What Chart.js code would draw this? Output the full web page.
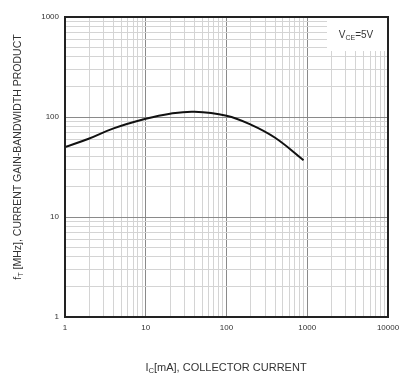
<!DOCTYPE html>
<html>
<head>
<meta charset="utf-8">
<script src="https://cdn.jsdelivr.net/npm/chart.js@4"></script>
<style>
  html, body { margin: 0; padding: 0; background: #fff; }
</style>
</head>
<body>
<canvas id="chart" width="406" height="385"></canvas>
<script>
// Ic [mA] vs fT [MHz]
const collectorCurrent = [1, 2, 4, 10, 20, 40, 100, 200, 400, 900];
const gainBandwidth = [50, 61, 77, 96, 108, 113, 103, 84, 62, 37];

const xTickValues = [1, 10, 100, 1000, 10000];
const xTickLabels = ["1", "10", "100", "1000", "10000"];
const yTickValues = [1, 10, 100, 1000];
const yTickLabels = ["1", "10", "100", "1000"];
const minorSteps = [2, 3, 4, 5, 6, 7, 8, 9];

const textColor = "#333";
const tickFont = { family: "Liberation Sans", size: 8 };

// decade ticks plus the 2..9 minor lines between them
function logTicks(decades) {
  let result = [];
  decades.forEach((d, i) => {
    result.push({ value: d });
    if (i < decades.length - 1) {
      minorSteps.forEach(m => result.push({ value: d * m }));
    }
  });
  return result;
}

function labelFor(values, labels) {
  return (value) => {
    const i = values.indexOf(value);
    return i >= 0 ? labels[i] : "";
  };
}

function gridColor(values) {
  return (ctx) => values.includes(ctx.tick && ctx.tick.value) ? "#8a8a8a" : "#d4d4d4";
}

// draw a string made of normal / subscript parts
function drawParts(ctx, parts, size) {
  let width = 0;
  parts.forEach(p => {
    ctx.font = (p.sub ? size * 0.7 : size) + "px 'Liberation Sans'";
    width += ctx.measureText(p.t).width;
  });
  let x = -width / 2;
  parts.forEach(p => {
    ctx.font = (p.sub ? size * 0.7 : size) + "px 'Liberation Sans'";
    ctx.fillText(p.t, x, p.sub ? size * 0.3 : 0);
    x += ctx.measureText(p.t).width;
  });
}

const framePlugin = {
  id: "frame",
  beforeDatasetsDraw(chart) {
    const { ctx, chartArea } = chart;
    // legend box for the test condition
    ctx.save();
    ctx.fillStyle = "#fff";
    ctx.fillRect(chartArea.right - 61, chartArea.top + 1, 60, 33);
    ctx.fillStyle = textColor;
    ctx.textBaseline = "middle";
    ctx.translate(chartArea.right - 32, chartArea.top + 18);
    drawParts(ctx, [{ t: "V" }, { t: "CE", sub: true }, { t: "=5V" }], 10);
    ctx.restore();
  },
  afterDraw(chart) {
    const { ctx, chartArea } = chart;
    ctx.save();
    ctx.strokeStyle = "#222";
    ctx.lineWidth = 2;
    ctx.strokeRect(chartArea.left, chartArea.top, chartArea.right - chartArea.left, chartArea.bottom - chartArea.top);

    ctx.fillStyle = textColor;
    ctx.textBaseline = "middle";
    // x axis title
    ctx.save();
    ctx.translate(226, 368);
    drawParts(ctx, [{ t: "I" }, { t: "C", sub: true }, { t: "[mA], COLLECTOR CURRENT" }], 11);
    ctx.restore();
    // y axis title
    ctx.save();
    ctx.translate(18, 157);
    ctx.rotate(-Math.PI / 2);
    drawParts(ctx, [{ t: "f" }, { t: "T", sub: true }, { t: " [MHz], CURRENT GAIN-BANDWIDTH PRODUCT" }], 10.5);
    ctx.restore();
    ctx.restore();
  }
};

new Chart(document.getElementById("chart").getContext("2d"), {
  type: "line",
  data: {
    datasets: [
      {
        data: collectorCurrent.map((x, i) => ({ x: x, y: gainBandwidth[i] })),
        borderColor: "#111",
        borderWidth: 2,
        pointRadius: 0,
        tension: 0.4,
        fill: false
      }
    ]
  },
  options: {
    responsive: false,
    animation: false,
    layout: { padding: { top: 17, right: 18, left: 0, bottom: 0 } },
    plugins: {
      legend: { display: false },
      tooltip: { enabled: false }
    },
    scales: {
      x: {
        type: "logarithmic",
        min: 1,
        max: 10000,
        afterBuildTicks: (scale) => { scale.ticks = logTicks(xTickValues); },
        afterFit: (scale) => { scale.height = 68; },
        ticks: {
          autoSkip: false,
          maxRotation: 0,
          padding: 6,
          color: textColor,
          font: tickFont,
          callback: labelFor(xTickValues, xTickLabels)
        },
        grid: { color: gridColor(xTickValues), lineWidth: 1, drawTicks: false },
        border: { display: false }
      },
      y: {
        type: "logarithmic",
        min: 1,
        max: 1000,
        afterBuildTicks: (scale) => { scale.ticks = logTicks(yTickValues); },
        afterFit: (scale) => { scale.width = 65; },
        ticks: {
          autoSkip: false,
          padding: 6,
          color: textColor,
          font: tickFont,
          callback: labelFor(yTickValues, yTickLabels)
        },
        grid: { color: gridColor(yTickValues), lineWidth: 1, drawTicks: false },
        border: { display: false }
      }
    }
  },
  plugins: [framePlugin]
});
</script>
</body>
</html>
